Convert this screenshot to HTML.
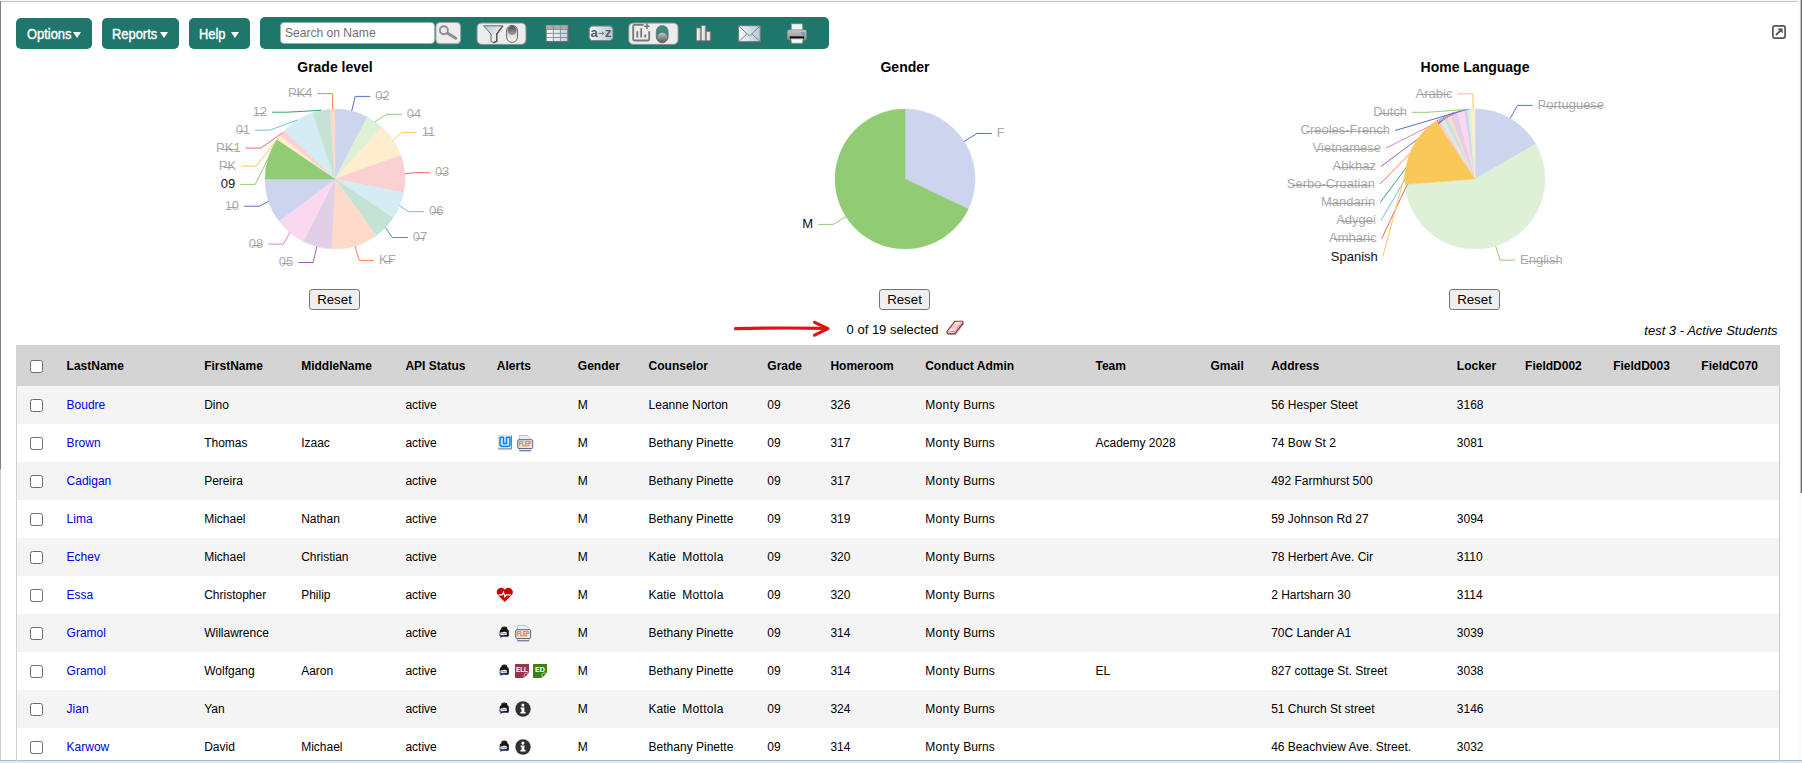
<!DOCTYPE html>
<html><head><meta charset="utf-8"><title>Students</title>
<style>
html,body{margin:0;padding:0;}
body{width:1802px;height:763px;overflow:hidden;background:#fff;position:relative;font-family:"Liberation Sans",sans-serif;font-size:12px;color:#000;}
.abs{position:absolute;}
.btn{position:absolute;top:18px;height:31px;background:#1f776b;border-radius:5px;color:#fff;}
.btn span{position:absolute;left:0;top:6.8px;font-size:14.5px;line-height:18px;white-space:nowrap;transform-origin:0 50%;transform:scaleX(.89);-webkit-text-stroke:0.4px #fff;}
.btn i{position:absolute;top:13.8px;width:0;height:0;border-left:4.7px solid transparent;border-right:4.7px solid transparent;border-top:6.8px solid #fff;}
.title{position:absolute;top:59.3px;width:200px;text-align:center;font-weight:bold;font-size:14px;line-height:16px;}
.reset{position:absolute;top:289px;width:51px;height:21px;box-sizing:border-box;border:1.5px solid #747474;border-radius:3.2px;background:#efefef;font-size:13.3px;line-height:19.2px;text-align:center;color:#000;}
.row{position:absolute;left:16px;width:1764px;height:38px;}
.row.g{background:#f4f4f4;}
.row span,.hdr span{position:absolute;top:0;line-height:38px;white-space:nowrap;}
.row a{color:#0000e0;text-decoration:none;}
.hdr{position:absolute;left:16px;top:345px;width:1764px;height:40.5px;background:#d4d4d4;font-weight:bold;}
.hdr span{line-height:43.4px;}
.cb{position:absolute;left:14px;width:13px;height:13px;box-sizing:border-box;border:1.1px solid #6c6c6c;border-radius:2.5px;background:#fff;}
</style></head><body>

<div class="abs" style="left:0;top:0;width:1802px;height:1px;background:#f6f6f6"></div>
<div class="abs" style="left:0;top:1px;width:1798px;height:1px;background:#c8c8c8"></div>
<div class="abs" style="left:0;top:1px;width:1px;height:468px;background:#808080"></div>
<div class="abs" style="left:0;top:469px;width:1px;height:291px;background:#cdcdcd"></div>
<div class="abs" style="left:1798px;top:0;width:4px;height:761px;background:#fbfbfb"></div>
<div class="abs" style="left:1800px;top:0;width:1px;height:493px;background:#c2c2c2"></div>
<div class="abs" style="left:1801px;top:0;width:1px;height:493px;background:#6c6c6c"></div>
<div class="abs" style="left:0;top:760px;width:1802px;height:1px;background:#b4b8bc"></div>
<div class="abs" style="left:0;top:761px;width:1802px;height:2px;background:#dbe8f5"></div>

<div class="btn" style="left:16px;width:76px"><span style="left:10.5px">Options</span><i style="left:56.6px"></i></div>
<div class="btn" style="left:102px;width:77px"><span style="left:10.3px">Reports</span><i style="left:57.8px"></i></div>
<div class="btn" style="left:189px;width:61px"><span style="left:10px">Help</span><i style="left:41.7px"></i></div>
<div class="abs" id="tb" style="left:260px;top:17px;width:569px;height:32px;background:#1f776b;border-radius:5px"></div>
<div class="abs" style="left:280.2px;top:22.4px;width:154.8px;height:21.4px;box-sizing:border-box;background:#fff;border:0.6px solid #8fb5ae;border-radius:4px;"><span style="position:absolute;left:3.7px;top:1.7px;font-size:12.1px;line-height:17px;color:#717171;white-space:nowrap">Search on Name</span></div>
<svg class="abs" style="left:260px;top:17px" width="569" height="32" viewBox="260 17 569 32">
<defs>
<linearGradient id="gfun" x1="0" y1="0" x2="1" y2="1"><stop offset="0" stop-color="#b9c9d6"/><stop offset="1" stop-color="#ffffff"/></linearGradient>
<linearGradient id="gknob" x1="0" y1="0" x2="0" y2="1"><stop offset="0" stop-color="#4e4e4e"/><stop offset="1" stop-color="#a4a4a4"/></linearGradient>
<linearGradient id="gknob2" x1="0" y1="0" x2="0" y2="1"><stop offset="0" stop-color="#c4c4c4"/><stop offset="1" stop-color="#5a5a5a"/></linearGradient>
<linearGradient id="gpill" x1="0" y1="0" x2="0" y2="1"><stop offset="0" stop-color="#bdbdbd"/><stop offset="1" stop-color="#f6f6f6"/></linearGradient>
<linearGradient id="gcell" x1="0" y1="0" x2="1" y2="0"><stop offset="0" stop-color="#ffffff"/><stop offset="1" stop-color="#b9d4e6"/></linearGradient>
<linearGradient id="genv" x1="0" y1="0" x2="1" y2="0"><stop offset="0" stop-color="#f4f8fb"/><stop offset="1" stop-color="#b4c8d8"/></linearGradient>
<linearGradient id="gbar" x1="0" y1="0" x2="1" y2="0"><stop offset="0" stop-color="#ffffff"/><stop offset="1" stop-color="#c8c8c8"/></linearGradient>
<linearGradient id="gprn" x1="0" y1="0" x2="0" y2="1"><stop offset="0" stop-color="#c8c8c8"/><stop offset="1" stop-color="#8c8c8c"/></linearGradient>
</defs>
<!-- search button -->
<rect x="435.9" y="22.5" width="24.7" height="21.2" rx="4" fill="#ececec" stroke="#a2a2a2" stroke-width="1"/>
<circle cx="443.9" cy="30.2" r="4" fill="none" stroke="#8e8e8e" stroke-width="1.9"/>
<path d="M447.6,33.2L455.8,38.2" stroke="#8e8e8e" stroke-width="2.9" stroke-linecap="round"/>
<!-- filter toggle -->
<rect x="477" y="23" width="49" height="21.4" rx="4.5" fill="#ececec" stroke="#8a8a8a" stroke-width="1"/>
<path d="M483.6,25.8H502.6L496.6,34V41.2L493.4,42.6L491,41.4V34Z" fill="url(#gfun)" stroke="#6a6a6a" stroke-width="1" stroke-linejoin="round"/>
<path d="M502.8,25.9L496.8,34.1V41.3L493.4,42.8" fill="none" stroke="#5a5a5a" stroke-width="1.5" stroke-linejoin="round"/>
<rect x="506.6" y="25.4" width="11" height="17" rx="5.5" fill="url(#gpill)" stroke="#6a6a6a" stroke-width="1"/>
<circle cx="512.1" cy="30.6" r="4.5" fill="url(#gknob)"/>
<!-- table icon -->
<rect x="546.3" y="25.4" width="21.6" height="16.2" fill="url(#gcell)" stroke="#7c7c7c" stroke-width="0.9"/>
<rect x="546.3" y="25.4" width="21.6" height="4" fill="#ababab"/>
<path d="M546.3,29.4H567.9M546.3,33.4H567.9M546.3,37.5H567.9M553.4,25.4V41.6M560.6,25.4V41.6" stroke="#8a8a8a" stroke-width="0.9" fill="none"/>
<path d="M546.3,41.8H568.2V25.6" stroke="#666" stroke-width="1" fill="none"/>
<!-- a-z -->
<path d="M591.6,26H610.6L613,28.4V38.2L610.6,40.6H591.6L589.2,38.2V28.4Z" fill="url(#genv)" stroke="#7c7c7c" stroke-width="1"/>
<text x="590.6" y="36.7" font-family="'Liberation Sans',sans-serif" font-weight="bold" font-size="13" fill="#5c5c5c">a</text><text x="605" y="36.7" font-family="'Liberation Sans',sans-serif" font-weight="bold" font-size="13" fill="#5c5c5c">z</text><path d="M598.6,33.4H603.4M601.8,31.8L603.6,33.4L601.8,35" stroke="#6a6a6a" stroke-width="0.9" fill="none"/>
<!-- chart toggle -->
<rect x="628.7" y="23" width="49.4" height="21.4" rx="4.5" fill="#ececec" stroke="#8a8a8a" stroke-width="1"/>
<path d="M643.6,24.9H634.4Q633.2,24.9 633.2,26.1V39.3Q633.2,40.5 634.4,40.5H648Q649.2,40.5 649.2,39.3V31.2" fill="none" stroke="#787878" stroke-width="1.8"/>
<path d="M646.9,23.6V29M644.2,26.3H649.6" stroke="#787878" stroke-width="1.6"/>
<path d="M637.3,37.4V31.2M641.2,37.4V28.2M645.2,37.4V34.6" stroke="#787878" stroke-width="1.8"/>
<rect x="656.3" y="25.6" width="11.8" height="17.2" rx="5.9" fill="#3b8b7f" stroke="#6a6a6a" stroke-width="0.8"/>
<circle cx="662.2" cy="37.6" r="4.9" fill="url(#gknob2)"/>
<!-- bars -->
<rect x="696.4" y="28" width="4.4" height="13" fill="url(#gbar)" stroke="#7c7c7c" stroke-width="0.8"/>
<rect x="701.3" y="25.6" width="4.4" height="15.4" fill="url(#gbar)" stroke="#7c7c7c" stroke-width="0.8"/>
<rect x="706.4" y="31.6" width="4.2" height="9.4" fill="url(#gbar)" stroke="#7c7c7c" stroke-width="0.8"/>
<path d="M695.8,41.2H711.2" stroke="#5c5c5c" stroke-width="1.2"/>
<!-- envelope -->
<rect x="738.6" y="25.8" width="21.6" height="16" fill="url(#genv)" stroke="#7c7c7c" stroke-width="1"/>
<path d="M738.8,26L749.4,36L760,26M738.8,41.6L747,33.8M760,41.6L751.8,33.8" stroke="#7c7c7c" stroke-width="0.9" fill="none"/>
<path d="M738.4,42.2H760.8" stroke="#5c5c5c" stroke-width="1"/>
<!-- printer -->
<rect x="791.4" y="23.9" width="11" height="6.4" fill="#f4f4f4" stroke="#9a9a9a" stroke-width="0.6"/>
<path d="M789.4,29.8H804.6Q806.6,29.8 806.6,32V38.4Q806.6,40 805,40H789Q787.2,40 787.2,38.4V32Q787.2,29.8 789.4,29.8Z" fill="url(#gprn)" stroke="#7a7a7a" stroke-width="0.6"/>
<rect x="789.8" y="36.4" width="14.4" height="2.4" fill="#0a0a0a"/>
<rect x="801.2" y="32.2" width="1.4" height="1.2" fill="#2f8fe8"/><rect x="803.2" y="32.2" width="1.4" height="1.2" fill="#2f8fe8"/><rect x="802.2" y="34" width="2.6" height="1" fill="#36c236"/>
<path d="M791,38.8H803L802.4,43.2H791.6Z" fill="#f6f6f6" stroke="#9a9a9a" stroke-width="0.6"/>
</svg>

<svg class="abs" style="left:1772px;top:25px" width="14" height="14" viewBox="0 0 14 14"><rect x="0.9" y="0.9" width="12.2" height="12.2" rx="2" fill="#fff" stroke="#555" stroke-width="1.7"/><path d="M4,10L9,5" fill="none" stroke="#555" stroke-width="1.9"/><path d="M5.4,3.4H10.6V8.6Z" fill="#555"/></svg>

<div class="title" style="left:235px">Grade level</div>
<div class="title" style="left:805px">Gender</div>
<div class="title" style="left:1375px">Home Language</div>
<div class="reset" style="left:309px">Reset</div>
<div class="reset" style="left:879px">Reset</div>
<div class="reset" style="left:1449px">Reset</div>
<svg id="charts" width="1802" height="270" viewBox="0 50 1802 270" style="position:absolute;left:0;top:50px;font-family:'Liberation Sans',sans-serif;font-size:13px">
<path d="M335,179L335.00,109.00A70,70 0 0 1 367.43,116.97Z" fill="#ccd4ee" stroke="#ccd4ee" stroke-width="0.5" stroke-linejoin="round"/>
<path d="M335,179L367.43,116.97A70,70 0 0 1 382.11,127.23Z" fill="#def0d6" stroke="#def0d6" stroke-width="0.5" stroke-linejoin="round"/>
<path d="M335,179L382.11,127.23A70,70 0 0 1 400.82,155.17Z" fill="#feeecd" stroke="#feeecd" stroke-width="0.5" stroke-linejoin="round"/>
<path d="M335,179L400.82,155.17A70,70 0 0 1 403.64,192.72Z" fill="#fad1d1" stroke="#fad1d1" stroke-width="0.5" stroke-linejoin="round"/>
<path d="M335,179L403.64,192.72A70,70 0 0 1 393.10,218.04Z" fill="#d5ecf5" stroke="#d5ecf5" stroke-width="0.5" stroke-linejoin="round"/>
<path d="M335,179L393.10,218.04A70,70 0 0 1 376.14,235.63Z" fill="#c4e3d5" stroke="#c4e3d5" stroke-width="0.5" stroke-linejoin="round"/>
<path d="M335,179L376.14,235.63A70,70 0 0 1 331.58,248.92Z" fill="#fedacb" stroke="#fedacb" stroke-width="0.5" stroke-linejoin="round"/>
<path d="M335,179L331.58,248.92A70,70 0 0 1 303.11,241.31Z" fill="#e1cfe8" stroke="#e1cfe8" stroke-width="0.5" stroke-linejoin="round"/>
<path d="M335,179L303.11,241.31A70,70 0 0 1 279.02,221.03Z" fill="#f9d8f0" stroke="#f9d8f0" stroke-width="0.5" stroke-linejoin="round"/>
<path d="M335,179L279.02,221.03A70,70 0 0 1 265.00,179.00Z" fill="#ccd4ee" stroke="#ccd4ee" stroke-width="0.5" stroke-linejoin="round"/>
<path d="M335,179L276.97,139.86A70,70 0 0 1 280.22,135.42Z" fill="#feeecd" stroke="#feeecd" stroke-width="0.5" stroke-linejoin="round"/>
<path d="M335,179L280.22,135.42A70,70 0 0 1 284.48,130.55Z" fill="#fad1d1" stroke="#fad1d1" stroke-width="0.5" stroke-linejoin="round"/>
<path d="M335,179L284.48,130.55A70,70 0 0 1 312.67,112.66Z" fill="#d5ecf5" stroke="#d5ecf5" stroke-width="0.5" stroke-linejoin="round"/>
<path d="M335,179L312.67,112.66A70,70 0 0 1 330.24,109.16Z" fill="#c4e3d5" stroke="#c4e3d5" stroke-width="0.5" stroke-linejoin="round"/>
<path d="M335,179L330.24,109.16A70,70 0 0 1 335.00,109.00Z" fill="#fedacb" stroke="#fedacb" stroke-width="0.5" stroke-linejoin="round"/>
<path d="M351.7,111.0L355.2,96.4L370.2,96.4" fill="none" stroke="#5470c6" stroke-width="1"/>
<text x="375.2" y="100.1" text-anchor="start" fill="#ababab">02</text>
<path d="M378.2,97.5H387.3" stroke="#949494" stroke-width="0.85" fill="none"/>
<path d="M375.1,121.6L386.6,114.3L401.8,114.3" fill="none" stroke="#91cc75" stroke-width="1"/>
<text x="406.8" y="118.0" text-anchor="start" fill="#ababab">04</text>
<path d="M409.8,115.5H418.9" stroke="#949494" stroke-width="0.85" fill="none"/>
<path d="M393.2,140.1L401.8,132.3L416.8,132.3" fill="none" stroke="#fac858" stroke-width="1"/>
<text x="421.8" y="136.0" text-anchor="start" fill="#ababab">11</text>
<path d="M424.8,133.5H431.7" stroke="#949494" stroke-width="0.85" fill="none"/>
<path d="M404.8,173.8L414.5,172.7L429.9,172.7" fill="none" stroke="#ee6666" stroke-width="1"/>
<text x="434.9" y="176.4" text-anchor="start" fill="#ababab">03</text>
<path d="M437.9,173.5H447.0" stroke="#949494" stroke-width="0.85" fill="none"/>
<path d="M399.6,205.9L408.6,211.7L424.0,211.7" fill="none" stroke="#73c0de" stroke-width="1"/>
<text x="429.0" y="215.4" text-anchor="start" fill="#ababab">06</text>
<path d="M432.0,212.5H441.1" stroke="#949494" stroke-width="0.85" fill="none"/>
<path d="M385.4,227.6L392.3,237.5L407.8,237.5" fill="none" stroke="#3ba272" stroke-width="1"/>
<text x="412.8" y="241.2" text-anchor="start" fill="#ababab">07</text>
<path d="M415.8,238.5H424.9" stroke="#949494" stroke-width="0.85" fill="none"/>
<path d="M355.0,246.1L359.3,260.5L374.0,260.5" fill="none" stroke="#fc8452" stroke-width="1"/>
<text x="379.0" y="264.2" text-anchor="start" fill="#ababab">KF</text>
<path d="M384.0,261.5H393.2" stroke="#949494" stroke-width="0.85" fill="none"/>
<path d="M316.9,246.6L313.1,262.5L298.3,262.5" fill="none" stroke="#9a60b4" stroke-width="1"/>
<text x="293.3" y="266.2" text-anchor="end" fill="#ababab">05</text>
<path d="M281.9,263.5H290.9" stroke="#949494" stroke-width="0.85" fill="none"/>
<path d="M289.9,232.5L283.3,244.1L268.3,244.1" fill="none" stroke="#ea7ccc" stroke-width="1"/>
<text x="263.3" y="247.8" text-anchor="end" fill="#ababab">08</text>
<path d="M251.9,245.5H260.9" stroke="#949494" stroke-width="0.85" fill="none"/>
<path d="M268.6,201.2L259.4,206.2L244.1,206.2" fill="none" stroke="#5470c6" stroke-width="1"/>
<text x="239.1" y="209.9" text-anchor="end" fill="#ababab">10</text>
<path d="M227.7,207.5H236.7" stroke="#949494" stroke-width="0.85" fill="none"/>
<path d="M278.5,137.6L256.1,166.1L241.1,166.1" fill="none" stroke="#fac858" stroke-width="1"/>
<text x="236.1" y="169.8" text-anchor="end" fill="#ababab">PK</text>
<path d="M223.7,167.5H233.7" stroke="#949494" stroke-width="0.85" fill="none"/>
<path d="M282.3,132.9L260.7,148.1L245.7,148.1" fill="none" stroke="#ee6666" stroke-width="1"/>
<text x="240.7" y="151.8" text-anchor="end" fill="#ababab">PK1</text>
<path d="M221.1,149.5H237.1" stroke="#949494" stroke-width="0.85" fill="none"/>
<path d="M297.5,119.9L270.0,130.1L255.2,130.1" fill="none" stroke="#73c0de" stroke-width="1"/>
<text x="250.2" y="133.8" text-anchor="end" fill="#ababab">01</text>
<path d="M238.8,131.5H246.6" stroke="#949494" stroke-width="0.85" fill="none"/>
<path d="M321.3,110.3L287.0,112.2L272.0,112.2" fill="none" stroke="#3ba272" stroke-width="1"/>
<text x="267.0" y="115.9" text-anchor="end" fill="#ababab">12</text>
<path d="M255.6,113.5H264.6" stroke="#949494" stroke-width="0.85" fill="none"/>
<path d="M332.6,109.0L332.6,93.6L317.5,93.6" fill="none" stroke="#fc8452" stroke-width="1"/>
<text x="312.5" y="97.3" text-anchor="end" fill="#ababab">PK4</text>
<path d="M292.9,94.5H310.1" stroke="#949494" stroke-width="0.85" fill="none"/>
<path d="M335,179L265.00,179.00A70,70 0 0 1 276.97,139.86Z" fill="#91cc75" stroke="#91cc75" stroke-width="0.5" stroke-linejoin="round"/>
<path d="M268.1,158.5L255.2,184.4L240.2,184.4" fill="none" stroke="#91cc75" stroke-width="1"/>
<text x="235.2" y="188.1" text-anchor="end" fill="#111">09</text>
<path d="M905,179L905.00,109.00A70,70 0 0 1 968.29,208.92Z" fill="#ccd4ee" stroke="#ccd4ee" stroke-width="0.5" stroke-linejoin="round"/>
<path d="M964.1,141.5L976.8,133.5L991.8,133.5" fill="none" stroke="#5470c6" stroke-width="1"/>
<text x="996.8" y="137.2" text-anchor="start" fill="#ababab">F</text>
<path d="M905,179L968.29,208.92A70,70 0 1 1 905.00,109.00Z" fill="#91cc75" stroke="#91cc75" stroke-width="0.5" stroke-linejoin="round"/>
<path d="M845.9,216.5L833.2,224.4L818.2,224.4" fill="none" stroke="#91cc75" stroke-width="1"/>
<text x="813.2" y="228.1" text-anchor="end" fill="#111">M</text>
<path d="M1475,179L1475.00,109.00A70,70 0 0 1 1535.68,144.11Z" fill="#ccd4ee" stroke="#ccd4ee" stroke-width="0.5" stroke-linejoin="round"/>
<path d="M1475,179L1535.68,144.11A70,70 0 1 1 1405.21,184.37Z" fill="#def0d6" stroke="#def0d6" stroke-width="0.5" stroke-linejoin="round"/>
<path d="M1475,179L1436.06,120.83A70,70 0 0 1 1439.79,118.50Z" fill="#fad1d1" stroke="#fad1d1" stroke-width="0.5" stroke-linejoin="round"/>
<path d="M1475,179L1439.79,118.50A70,70 0 0 1 1443.11,116.69Z" fill="#d5ecf5" stroke="#d5ecf5" stroke-width="0.5" stroke-linejoin="round"/>
<path d="M1475,179L1443.11,116.69A70,70 0 0 1 1446.42,115.10Z" fill="#c4e3d5" stroke="#c4e3d5" stroke-width="0.5" stroke-linejoin="round"/>
<path d="M1475,179L1446.42,115.10A70,70 0 0 1 1450.03,113.61Z" fill="#fedacb" stroke="#fedacb" stroke-width="0.5" stroke-linejoin="round"/>
<path d="M1475,179L1450.03,113.61A70,70 0 0 1 1457.12,111.32Z" fill="#e1cfe8" stroke="#e1cfe8" stroke-width="0.5" stroke-linejoin="round"/>
<path d="M1475,179L1457.12,111.32A70,70 0 0 1 1464.41,109.81Z" fill="#f9d8f0" stroke="#f9d8f0" stroke-width="0.5" stroke-linejoin="round"/>
<path d="M1475,179L1464.41,109.81A70,70 0 0 1 1468.05,109.35Z" fill="#ccd4ee" stroke="#ccd4ee" stroke-width="0.5" stroke-linejoin="round"/>
<path d="M1475,179L1468.05,109.35A70,70 0 0 1 1471.46,109.09Z" fill="#def0d6" stroke="#def0d6" stroke-width="0.5" stroke-linejoin="round"/>
<path d="M1475,179L1471.46,109.09A70,70 0 0 1 1475.00,109.00Z" fill="#feeecd" stroke="#feeecd" stroke-width="0.5" stroke-linejoin="round"/>
<path d="M1510.1,118.4L1517.6,105.4L1532.6,105.4" fill="none" stroke="#5470c6" stroke-width="1"/>
<text x="1537.6" y="109.1" text-anchor="start" fill="#ababab">Portuguese</text>
<path d="M1542.6,106.5H1601.7" stroke="#949494" stroke-width="0.85" fill="none"/>
<path d="M1495.6,245.9L1500.1,260.2L1515.1,260.2" fill="none" stroke="#91cc75" stroke-width="1"/>
<text x="1520.1" y="263.9" text-anchor="start" fill="#ababab">English</text>
<path d="M1525.1,261.5H1560.3" stroke="#949494" stroke-width="0.85" fill="none"/>
<path d="M1437.9,119.6L1381.7,238.6" fill="none" stroke="#ee6666" stroke-width="1"/>
<text x="1376.7" y="242.3" text-anchor="end" fill="#ababab">Amharic</text>
<path d="M1334.0,239.5H1374.3" stroke="#949494" stroke-width="0.85" fill="none"/>
<path d="M1441.4,117.6L1380.9,220.6" fill="none" stroke="#73c0de" stroke-width="1"/>
<text x="1375.9" y="224.3" text-anchor="end" fill="#ababab">Adygei</text>
<path d="M1341.1,221.5H1373.5" stroke="#949494" stroke-width="0.85" fill="none"/>
<path d="M1444.8,115.9L1380.2,202.5" fill="none" stroke="#3ba272" stroke-width="1"/>
<text x="1375.2" y="206.2" text-anchor="end" fill="#ababab">Mandarin</text>
<path d="M1328.1,203.5H1372.8" stroke="#949494" stroke-width="0.85" fill="none"/>
<path d="M1448.2,114.3L1379.9,184.2" fill="none" stroke="#fc8452" stroke-width="1"/>
<text x="1374.9" y="187.9" text-anchor="end" fill="#ababab">Serbo-Croatian</text>
<path d="M1291.7,185.5H1372.5" stroke="#949494" stroke-width="0.85" fill="none"/>
<path d="M1453.5,112.4L1380.9,166.5" fill="none" stroke="#9a60b4" stroke-width="1"/>
<text x="1375.9" y="170.2" text-anchor="end" fill="#ababab">Abkhaz</text>
<path d="M1337.5,167.5H1373.5" stroke="#949494" stroke-width="0.85" fill="none"/>
<path d="M1460.7,110.5L1386.0,148.1" fill="none" stroke="#ea7ccc" stroke-width="1"/>
<text x="1381.0" y="151.8" text-anchor="end" fill="#ababab">Vietnamese</text>
<path d="M1317.5,149.5H1378.6" stroke="#949494" stroke-width="0.85" fill="none"/>
<path d="M1466.2,109.6L1395.1,130.5" fill="none" stroke="#5470c6" stroke-width="1"/>
<text x="1390.1" y="134.2" text-anchor="end" fill="#ababab">Creoles-French</text>
<path d="M1306.2,131.5H1387.7" stroke="#949494" stroke-width="0.85" fill="none"/>
<path d="M1469.8,109.2L1427.1,112.3L1412.1,112.3" fill="none" stroke="#91cc75" stroke-width="1"/>
<text x="1407.1" y="116.0" text-anchor="end" fill="#ababab">Dutch</text>
<path d="M1378.8,113.5H1404.7" stroke="#949494" stroke-width="0.85" fill="none"/>
<path d="M1473.2,109.0L1472.8,93.8L1457.4,93.8" fill="none" stroke="#fac858" stroke-width="1"/>
<text x="1452.4" y="97.5" text-anchor="end" fill="#ababab">Arabic</text>
<path d="M1420.5,94.5H1450.0" stroke="#949494" stroke-width="0.85" fill="none"/>
<path d="M1475,179L1405.21,184.37A70,70 0 0 1 1436.06,120.83Z" fill="#fac858" stroke="#fac858" stroke-width="0.5" stroke-linejoin="round"/>
<path d="M1412.0,148.4L1382.8,256.3" fill="none" stroke="#fac858" stroke-width="1"/>
<text x="1377.8" y="260.7" text-anchor="end" fill="#111">Spanish</text>
</svg>
<svg class="abs" style="left:730px;top:318px" width="110" height="22" viewBox="730 318 110 22"><path d="M735.5,328.6 C760,328.0 800,327.8 826,328.4" stroke="#e0131a" stroke-width="3.1" stroke-linecap="round" fill="none"/><path d="M814.6,322.4 L828,328.6 L814.6,335.2" stroke="#e0131a" stroke-width="3.1" stroke-linecap="round" stroke-linejoin="round" fill="none"/></svg>
<div class="abs" style="left:846.6px;top:322.4px;font-size:13px;line-height:16px;white-space:nowrap">0 of 19 selected</div>
<svg class="abs" style="left:944px;top:318px" width="22" height="20" viewBox="944 318 22 20"><defs><linearGradient id="ger" x1="0" y1="0" x2="0" y2="1"><stop offset="0" stop-color="#fdf4f4"/><stop offset="0.45" stop-color="#f3bcbc"/><stop offset="0.7" stop-color="#fbecec"/><stop offset="1" stop-color="#f0b0b0"/></linearGradient></defs><path d="M955.8,322.2H963.8V324.6L955.6,335H947.6V332.6Z" fill="#93aacb" opacity="0.9"/><path d="M955,321.2H962.8V323.4L954.6,333.8H947.2L947,331.4Z" fill="url(#ger)" stroke="#9a2f2f" stroke-width="1.1" stroke-linejoin="round"/><path d="M947.4,331.6H954.6L962.6,321.6M954.7,331.6V333.6" fill="none" stroke="#d08888" stroke-width="0.7"/></svg>
<div class="abs" style="right:24.5px;top:322.8px;font-size:13px;line-height:16px;font-style:italic;white-space:nowrap">test 3 - Active Students</div>
<div class="hdr"><div class="cb" style="top:15px"></div>
<span style="left:50.6px">LastName</span>
<span style="left:188.2px">FirstName</span>
<span style="left:285.2px">MiddleName</span>
<span style="left:389.4px">API Status</span>
<span style="left:480.8px">Alerts</span>
<span style="left:561.8px">Gender</span>
<span style="left:632.6px">Counselor</span>
<span style="left:751.3px">Grade</span>
<span style="left:814.4px">Homeroom</span>
<span style="left:909.2px">Conduct Admin</span>
<span style="left:1079.5px">Team</span>
<span style="left:1194.4px">Gmail</span>
<span style="left:1255.2px">Address</span>
<span style="left:1440.8px">Locker</span>
<span style="left:1509.1px">FieldD002</span>
<span style="left:1597.2px">FieldD003</span>
<span style="left:1685.3px">FieldC070</span>
</div>
<div class="row g" style="top:385.5px"><div class="cb" style="top:13px"></div>
<span style="left:50.6px"><a>Boudre</a></span>
<span style="left:188.2px">Dino</span>
<span style="left:389.4px">active</span>
<span style="left:561.8px">M</span>
<span style="left:632.6px">Leanne Norton</span>
<span style="left:751.3px">09</span>
<span style="left:814.4px">326</span>
<span style="left:909.2px"><b style="font-weight:normal;letter-spacing:.38px">Monty</b><b style="font-weight:normal;margin-left:3.6px">Burns</b></span>
<span style="left:1255.2px">56 Hesper Steet</span>
<span style="left:1440.8px">3168</span>
</div>
<div class="row" style="top:423.5px"><div class="cb" style="top:13px"></div>
<span style="left:50.6px"><a>Brown</a></span>
<span style="left:188.2px">Thomas</span>
<span style="left:285.2px">Izaac</span>
<span style="left:389.4px">active</span>
<svg class="abs" style="left:482px;top:11.5px" width="14" height="15" viewBox="0 0 14 15"><rect x="0.3" y="0.3" width="13.2" height="13.6" fill="#fff" stroke="#d9c8b8" stroke-width="0.6"/><path d="M0.3,13.9H13.6V0.6" fill="none" stroke="#777" stroke-width="1"/><path d="M2,2.2H5.6V8.4H8.4V2.2H12V9.2Q12,11.6 9.6,11.6H4.4Q2,11.6 2,9.2Z" fill="#bfe6ff" stroke="#0a7cff" stroke-width="1.5" stroke-linejoin="round"/></svg>
<svg class="abs" style="left:501px;top:11.5px" width="17" height="17" viewBox="0 0 17 17"><path d="M2.5,0.5H11L14,3.5V15.6H2.5Z" fill="#e9eef6" stroke="#a9b9d0" stroke-width="0.8"/><path d="M2.4,15.8H14.1" stroke="#4c5c76" stroke-width="0.9"/><rect x="0.7" y="4.7" width="15" height="8.8" rx="1.2" fill="#e2e4e8" stroke="#4c5c76" stroke-width="0.9"/><text x="8.2" y="11.4" font-size="6.3" font-weight="bold" fill="#f08a12" stroke="#f08a12" stroke-width="0.25" text-anchor="middle" font-family="'Liberation Sans',sans-serif" textLength="12.2" lengthAdjust="spacingAndGlyphs">FLEP</text></svg>
<span style="left:561.8px">M</span>
<span style="left:632.6px">Bethany Pinette</span>
<span style="left:751.3px">09</span>
<span style="left:814.4px">317</span>
<span style="left:909.2px"><b style="font-weight:normal;letter-spacing:.38px">Monty</b><b style="font-weight:normal;margin-left:3.6px">Burns</b></span>
<span style="left:1079.5px">Academy 2028</span>
<span style="left:1255.2px">74 Bow St 2</span>
<span style="left:1440.8px">3081</span>
</div>
<div class="row g" style="top:461.5px"><div class="cb" style="top:13px"></div>
<span style="left:50.6px"><a>Cadigan</a></span>
<span style="left:188.2px">Pereira</span>
<span style="left:389.4px">active</span>
<span style="left:561.8px">M</span>
<span style="left:632.6px">Bethany Pinette</span>
<span style="left:751.3px">09</span>
<span style="left:814.4px">317</span>
<span style="left:909.2px"><b style="font-weight:normal;letter-spacing:.38px">Monty</b><b style="font-weight:normal;margin-left:3.6px">Burns</b></span>
<span style="left:1255.2px">492 Farmhurst 500</span>
</div>
<div class="row" style="top:499.5px"><div class="cb" style="top:13px"></div>
<span style="left:50.6px"><a>Lima</a></span>
<span style="left:188.2px">Michael</span>
<span style="left:285.2px">Nathan</span>
<span style="left:389.4px">active</span>
<span style="left:561.8px">M</span>
<span style="left:632.6px">Bethany Pinette</span>
<span style="left:751.3px">09</span>
<span style="left:814.4px">319</span>
<span style="left:909.2px"><b style="font-weight:normal;letter-spacing:.38px">Monty</b><b style="font-weight:normal;margin-left:3.6px">Burns</b></span>
<span style="left:1255.2px">59 Johnson Rd 27</span>
<span style="left:1440.8px">3094</span>
</div>
<div class="row g" style="top:537.5px"><div class="cb" style="top:13px"></div>
<span style="left:50.6px"><a>Echev</a></span>
<span style="left:188.2px">Michael</span>
<span style="left:285.2px">Christian</span>
<span style="left:389.4px">active</span>
<span style="left:561.8px">M</span>
<span style="left:632.6px">Katie<b style="font-weight:normal;letter-spacing:.33px;margin-left:6.2px">Mottola</b></span>
<span style="left:751.3px">09</span>
<span style="left:814.4px">320</span>
<span style="left:909.2px"><b style="font-weight:normal;letter-spacing:.38px">Monty</b><b style="font-weight:normal;margin-left:3.6px">Burns</b></span>
<span style="left:1255.2px">78 Herbert Ave. Cir</span>
<span style="left:1440.8px">3110</span>
</div>
<div class="row" style="top:575.5px"><div class="cb" style="top:13px"></div>
<span style="left:50.6px"><a>Essa</a></span>
<span style="left:188.2px">Christopher</span>
<span style="left:285.2px">Philip</span>
<span style="left:389.4px">active</span>
<svg class="abs" style="left:480.3px;top:11.6px" width="17.6" height="15.5" viewBox="0 0 17 15"><path d="M8.5,14.5L1.4,7.2A4.2,4.2 0 0 1 8.5,2.6A4.2,4.2 0 0 1 15.6,7.2Z" fill="#cc0000"/><path d="M2.4,7.6H6L7.2,5.2L8.6,9.6L9.8,7.6H14.4" fill="none" stroke="#fff" stroke-width="1.1"/></svg>
<span style="left:561.8px">M</span>
<span style="left:632.6px">Katie<b style="font-weight:normal;letter-spacing:.33px;margin-left:6.2px">Mottola</b></span>
<span style="left:751.3px">09</span>
<span style="left:814.4px">320</span>
<span style="left:909.2px"><b style="font-weight:normal;letter-spacing:.38px">Monty</b><b style="font-weight:normal;margin-left:3.6px">Burns</b></span>
<span style="left:1255.2px">2 Hartsharn 30</span>
<span style="left:1440.8px">3114</span>
</div>
<div class="row g" style="top:613.5px"><div class="cb" style="top:13px"></div>
<span style="left:50.6px"><a>Gramol</a></span>
<span style="left:188.2px">Willawrence</span>
<span style="left:389.4px">active</span>
<svg class="abs" style="left:483.3px;top:12.3px" width="11" height="12.7" viewBox="0 0 11 12" preserveAspectRatio="none"><path d="M2.6,1.3Q5.2,-0.5 8,1.3L8.4,3Q9.8,3.6 9.8,5V9.2Q9.8,10.2 8.8,10.2H3.2L1.2,11.3L1.7,9.9Q0.7,9.4 0.7,8.4V5Q0.7,3.6 2.2,3Z" fill="#141414"/><path d="M3.2,1.6Q5.2,0.9 7.2,1.7" stroke="#555" stroke-width="0.5" fill="none"/><path d="M1.3,6.5Q4,4.9 7.6,5.7L7.8,8.5Q4,8.8 1.2,8.4Z" fill="#f2f2f2"/><path d="M2.4,7.2Q3.6,6.2 4.6,7.1T6.8,6.8" stroke="#333" stroke-width="0.6" fill="none"/><path d="M0.5,7.8Q3.6,8.7 7.4,9.5L7,10.3Q3,9.7 0.4,8.9Z" fill="#2e5fb5"/></svg>
<svg class="abs" style="left:499px;top:11px" width="17" height="17" viewBox="0 0 17 17"><path d="M2.5,0.5H11L14,3.5V15.6H2.5Z" fill="#e9eef6" stroke="#a9b9d0" stroke-width="0.8"/><path d="M2.4,15.8H14.1" stroke="#4c5c76" stroke-width="0.9"/><rect x="0.7" y="4.7" width="15" height="8.8" rx="1.2" fill="#e2e4e8" stroke="#4c5c76" stroke-width="0.9"/><text x="8.2" y="11.4" font-size="6.3" font-weight="bold" fill="#f08a12" stroke="#f08a12" stroke-width="0.25" text-anchor="middle" font-family="'Liberation Sans',sans-serif" textLength="12.2" lengthAdjust="spacingAndGlyphs">FLEP</text></svg>
<span style="left:561.8px">M</span>
<span style="left:632.6px">Bethany Pinette</span>
<span style="left:751.3px">09</span>
<span style="left:814.4px">314</span>
<span style="left:909.2px"><b style="font-weight:normal;letter-spacing:.38px">Monty</b><b style="font-weight:normal;margin-left:3.6px">Burns</b></span>
<span style="left:1255.2px">70C Lander A1</span>
<span style="left:1440.8px">3039</span>
</div>
<div class="row" style="top:651.5px"><div class="cb" style="top:13px"></div>
<span style="left:50.6px"><a>Gramol</a></span>
<span style="left:188.2px">Wolfgang</span>
<span style="left:285.2px">Aaron</span>
<span style="left:389.4px">active</span>
<svg class="abs" style="left:483.3px;top:12.3px" width="11" height="12.7" viewBox="0 0 11 12" preserveAspectRatio="none"><path d="M2.6,1.3Q5.2,-0.5 8,1.3L8.4,3Q9.8,3.6 9.8,5V9.2Q9.8,10.2 8.8,10.2H3.2L1.2,11.3L1.7,9.9Q0.7,9.4 0.7,8.4V5Q0.7,3.6 2.2,3Z" fill="#141414"/><path d="M3.2,1.6Q5.2,0.9 7.2,1.7" stroke="#555" stroke-width="0.5" fill="none"/><path d="M1.3,6.5Q4,4.9 7.6,5.7L7.8,8.5Q4,8.8 1.2,8.4Z" fill="#f2f2f2"/><path d="M2.4,7.2Q3.6,6.2 4.6,7.1T6.8,6.8" stroke="#333" stroke-width="0.6" fill="none"/><path d="M0.5,7.8Q3.6,8.7 7.4,9.5L7,10.3Q3,9.7 0.4,8.9Z" fill="#2e5fb5"/></svg>
<svg class="abs" style="left:499px;top:12.4px" width="14" height="14" viewBox="0 0 14 14"><path d="M0,0H14V9L9,14H0Z" fill="#9b3345"/><path d="M9,14L9.4,10.2Q9.5,9.4 10.4,9.3L14,9Z" fill="#7a2333" stroke="#f3d6da" stroke-width="0.8"/><text x="7" y="8.1" font-size="8" font-weight="bold" fill="#fff" text-anchor="middle" font-family="'Liberation Sans',sans-serif" textLength="12" lengthAdjust="spacingAndGlyphs">ELL</text></svg>
<svg class="abs" style="left:517px;top:12.4px" width="14" height="14" viewBox="0 0 14 14"><path d="M0,0H14V9L9,14H0Z" fill="#3d7f18"/><path d="M9,14L9.4,10.2Q9.5,9.4 10.4,9.3L14,9Z" fill="#2f6a10" stroke="#d9ecd0" stroke-width="0.8"/><text x="7" y="8.1" font-size="8" font-weight="bold" fill="#fff" text-anchor="middle" font-family="'Liberation Sans',sans-serif" textLength="10" lengthAdjust="spacingAndGlyphs">ED</text></svg>
<span style="left:561.8px">M</span>
<span style="left:632.6px">Bethany Pinette</span>
<span style="left:751.3px">09</span>
<span style="left:814.4px">314</span>
<span style="left:909.2px"><b style="font-weight:normal;letter-spacing:.38px">Monty</b><b style="font-weight:normal;margin-left:3.6px">Burns</b></span>
<span style="left:1079.5px">EL</span>
<span style="left:1255.2px">827 cottage St. Street</span>
<span style="left:1440.8px">3038</span>
</div>
<div class="row g" style="top:689.5px"><div class="cb" style="top:13px"></div>
<span style="left:50.6px"><a>Jian</a></span>
<span style="left:188.2px">Yan</span>
<span style="left:389.4px">active</span>
<svg class="abs" style="left:483.3px;top:12.3px" width="11" height="12.7" viewBox="0 0 11 12" preserveAspectRatio="none"><path d="M2.6,1.3Q5.2,-0.5 8,1.3L8.4,3Q9.8,3.6 9.8,5V9.2Q9.8,10.2 8.8,10.2H3.2L1.2,11.3L1.7,9.9Q0.7,9.4 0.7,8.4V5Q0.7,3.6 2.2,3Z" fill="#141414"/><path d="M3.2,1.6Q5.2,0.9 7.2,1.7" stroke="#555" stroke-width="0.5" fill="none"/><path d="M1.3,6.5Q4,4.9 7.6,5.7L7.8,8.5Q4,8.8 1.2,8.4Z" fill="#f2f2f2"/><path d="M2.4,7.2Q3.6,6.2 4.6,7.1T6.8,6.8" stroke="#333" stroke-width="0.6" fill="none"/><path d="M0.5,7.8Q3.6,8.7 7.4,9.5L7,10.3Q3,9.7 0.4,8.9Z" fill="#2e5fb5"/></svg>
<svg class="abs" style="left:499.2px;top:11.5px" width="16" height="16" viewBox="0 0 16 16"><circle cx="8" cy="8" r="7.7" fill="#313131"/><circle cx="7.9" cy="4.1" r="1.55" fill="#fff"/><path d="M5.6,6.5H9.4V10.9H10.6V12.6H5.4V10.9H6.5V8H5.6Z" fill="#fff"/></svg>
<span style="left:561.8px">M</span>
<span style="left:632.6px">Katie<b style="font-weight:normal;letter-spacing:.33px;margin-left:6.2px">Mottola</b></span>
<span style="left:751.3px">09</span>
<span style="left:814.4px">324</span>
<span style="left:909.2px"><b style="font-weight:normal;letter-spacing:.38px">Monty</b><b style="font-weight:normal;margin-left:3.6px">Burns</b></span>
<span style="left:1255.2px">51 Church St street</span>
<span style="left:1440.8px">3146</span>
</div>
<div class="row" style="top:727.5px"><div class="cb" style="top:13px"></div>
<span style="left:50.6px"><a>Karwow</a></span>
<span style="left:188.2px">David</span>
<span style="left:285.2px">Michael</span>
<span style="left:389.4px">active</span>
<svg class="abs" style="left:483.3px;top:12.3px" width="11" height="12.7" viewBox="0 0 11 12" preserveAspectRatio="none"><path d="M2.6,1.3Q5.2,-0.5 8,1.3L8.4,3Q9.8,3.6 9.8,5V9.2Q9.8,10.2 8.8,10.2H3.2L1.2,11.3L1.7,9.9Q0.7,9.4 0.7,8.4V5Q0.7,3.6 2.2,3Z" fill="#141414"/><path d="M3.2,1.6Q5.2,0.9 7.2,1.7" stroke="#555" stroke-width="0.5" fill="none"/><path d="M1.3,6.5Q4,4.9 7.6,5.7L7.8,8.5Q4,8.8 1.2,8.4Z" fill="#f2f2f2"/><path d="M2.4,7.2Q3.6,6.2 4.6,7.1T6.8,6.8" stroke="#333" stroke-width="0.6" fill="none"/><path d="M0.5,7.8Q3.6,8.7 7.4,9.5L7,10.3Q3,9.7 0.4,8.9Z" fill="#2e5fb5"/></svg>
<svg class="abs" style="left:499.2px;top:11.5px" width="16" height="16" viewBox="0 0 16 16"><circle cx="8" cy="8" r="7.7" fill="#313131"/><circle cx="7.9" cy="4.1" r="1.55" fill="#fff"/><path d="M5.6,6.5H9.4V10.9H10.6V12.6H5.4V10.9H6.5V8H5.6Z" fill="#fff"/></svg>
<span style="left:561.8px">M</span>
<span style="left:632.6px">Bethany Pinette</span>
<span style="left:751.3px">09</span>
<span style="left:814.4px">314</span>
<span style="left:909.2px"><b style="font-weight:normal;letter-spacing:.38px">Monty</b><b style="font-weight:normal;margin-left:3.6px">Burns</b></span>
<span style="left:1255.2px">46 Beachview Ave. Street.</span>
<span style="left:1440.8px">3032</span>
</div>
<div class="abs" style="left:16px;top:385.5px;width:1px;height:375px;background:#d2d2d2"></div>
<div class="abs" style="left:1779px;top:385.5px;width:1px;height:375px;background:#c8c8c8"></div>
</body></html>
